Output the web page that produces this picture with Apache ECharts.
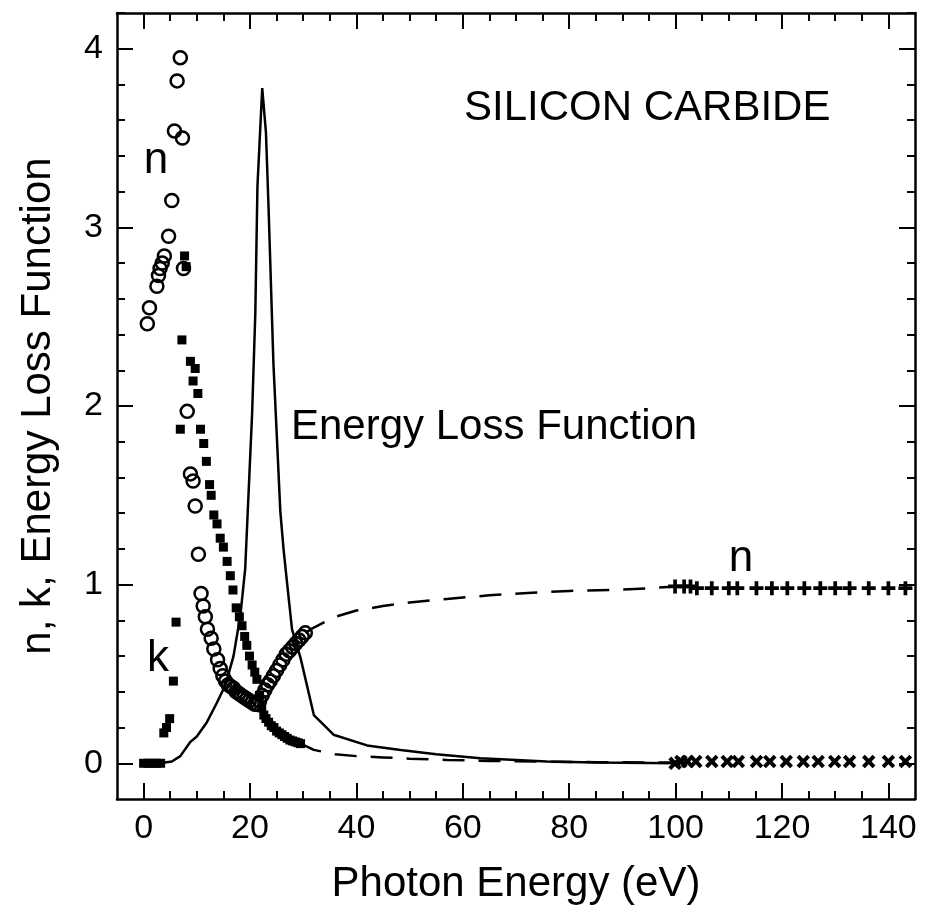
<!DOCTYPE html>
<html>
<head>
<meta charset="utf-8">
<script src="https://cdn.jsdelivr.net/npm/echarts@6/dist/echarts.min.js"></script>
<style>
  html, body { margin: 0; padding: 0; background: #fff; }
  #chart { width: 927px; height: 916px; }
</style>
</head>
<body>
<div id="chart"></div>
<script>
/*
 * =================数据===================*/
// n, low energy (open circles)
const nLow = [
  [0.7, 2.46], [1.1, 2.55], [2.5, 2.67], [2.8, 2.73], [3.1, 2.77], [3.5, 2.8],
  [3.9, 2.84], [4.7, 2.95], [5.3, 3.15], [5.8, 3.54], [6.3, 3.82], [6.9, 3.95],
  [7.3, 3.5], [7.5, 2.77], [8.2, 1.97], [8.8, 1.62], [9.3, 1.58], [9.7, 1.44],
  [10.3, 1.17], [10.8, 0.95], [11.2, 0.88], [11.6, 0.82], [12.0, 0.75], [12.7, 0.7],
  [13.2, 0.64], [13.9, 0.58], [14.4, 0.53], [14.9, 0.49], [15.4, 0.46], [15.9, 0.44],
  [16.4, 0.43], [16.9, 0.42], [17.4, 0.4], [17.9, 0.39], [18.4, 0.38], [18.9, 0.37],
  [19.4, 0.36], [19.9, 0.35], [20.4, 0.34], [20.9, 0.33], [21.3, 0.33], [21.8, 0.35],
  [22.3, 0.38], [22.8, 0.41], [23.3, 0.44], [23.8, 0.46], [24.4, 0.49], [25.0, 0.52],
  [25.6, 0.55], [26.2, 0.58], [26.8, 0.61], [27.4, 0.63], [28.0, 0.65], [28.6, 0.67],
  [29.2, 0.69], [29.8, 0.71], [30.4, 0.73]
];
// k, low energy (filled squares)
const kLow = [
  [0, 0], [0.8, 0], [1.6, 0], [2.4, 0], [3.2, 0], [3.8, 0.17], [4.3, 0.2], [4.9, 0.25],
  [5.6, 0.46], [6.1, 0.79], [7.7, 2.84], [8.0, 2.78], [7.2, 2.37], [8.8, 2.25],
  [9.7, 2.21], [9.3, 2.14], [10.2, 2.07], [6.9, 1.87], [10.7, 1.87], [11.3, 1.79],
  [11.8, 1.69], [12.4, 1.56], [12.7, 1.5], [13.2, 1.39], [13.8, 1.34], [14.4, 1.26],
  [15.0, 1.21], [15.7, 1.13], [16.3, 1.05], [16.8, 0.97], [17.4, 0.87], [18.0, 0.82],
  [18.5, 0.77], [19.0, 0.71], [19.4, 0.66], [19.9, 0.6], [20.4, 0.55], [20.9, 0.51],
  [21.3, 0.47], [21.8, 0.38], [22.2, 0.31], [22.6, 0.27], [23.0, 0.25], [23.5, 0.23],
  [24.0, 0.21], [24.5, 0.2], [25.0, 0.18], [25.5, 0.17], [26.0, 0.16], [26.5, 0.15],
  [27.0, 0.14], [27.5, 0.13], [28.0, 0.125], [28.5, 0.12], [29.0, 0.115], [29.5, 0.11]
];
// energy loss function (solid line)
const elf = [
  [0, 0], [3, 0], [5.3, 0.01], [6.9, 0.04], [8.8, 0.12], [10.0, 0.15], [11.9, 0.23],
  [13.8, 0.34], [15.4, 0.44], [16.9, 0.6], [18.2, 0.83], [19.1, 1.09], [20.4, 1.96],
  [21.0, 2.52], [21.4, 3.23], [22.3, 3.78], [23.0, 3.53], [23.5, 3.1], [24.4, 2.24],
  [25.7, 1.41], [26.3, 1.2], [27.0, 1.0], [27.9, 0.75], [29.5, 0.59], [32.0, 0.27],
  [35.7, 0.16], [42.0, 0.1], [48.3, 0.074], [55, 0.05], [63.3, 0.028], [75.8, 0.01],
  [85, 0.004], [100, 0]
];
// n, tabulated extension (dashed)
const nDash = [
  [30.4, 0.73], [32, 0.76], [34, 0.79], [36, 0.82], [40, 0.855], [45, 0.88], [50, 0.9],
  [57, 0.92], [65, 0.94], [73, 0.955], [80, 0.965], [88, 0.97], [95, 0.98], [100, 0.99]
];
// k, tabulated extension (dashed)
const kDash = [
  [29.5, 0.11], [32, 0.075], [36, 0.05], [40, 0.04], [45, 0.033], [50, 0.026],
  [57, 0.019], [65, 0.013], [75, 0.009], [85, 0.006], [100, 0.004]
];
// n, high energy (+)
const nHigh = [
  [99.9, 0.99], [101.6, 0.99], [102.8, 0.99], [104.0, 0.98], [106.8, 0.98], [110.0, 0.98],
  [111.6, 0.98], [115.2, 0.98], [118.1, 0.98], [121.0, 0.98], [124.2, 0.98], [127.2, 0.98],
  [130.0, 0.98], [132.7, 0.98], [136.3, 0.98], [140.0, 0.98], [143.2, 0.98]
];
// k, high energy (x)
const kHigh = [
  [99.9, 0.0], [101.0, 0.01], [102.2, 0.01], [103.8, 0.01], [106.8, 0.01], [109.7, 0.01],
  [111.8, 0.01], [115.2, 0.01], [117.7, 0.01], [120.8, 0.01], [124.0, 0.01], [126.8, 0.01],
  [129.9, 0.01], [132.7, 0.01], [136.3, 0.01], [140.0, 0.01], [143.2, 0.01]
];

const xMajor = [0, 20, 40, 60, 80, 100, 120, 140];
const xMinor = [5, 10, 15, 25, 30, 35, 45, 50, 55, 65, 70, 75, 85, 90, 95, 105, 110, 115, 125, 130, 135];
const yMajor = [0, 1, 2, 3, 4];
const yMinor = [0.2, 0.4, 0.6, 0.8, 1.2, 1.4, 1.6, 1.8, 2.2, 2.4, 2.6, 2.8, 3.2, 3.4, 3.6, 3.8, 4.2];

/*
 * =================图表===================*/
{
  const FONT = "Liberation Sans, Arial, sans-serif";
  const PLUS = "path://M4.4,0H7.6V4.4H12V7.6H7.6V12H4.4V7.6H0V4.4H4.4Z";

  // one axis per side and tick length: major ticks long, minor ticks short
  function xAx(pos, ticks, len, main) {
    return {
      type: "value", min: -5, max: 145, position: pos, gridIndex: 0,
      axisLine: { show: main, onZero: false, lineStyle: { color: "#000", width: 2.5 } },
      axisTick: { show: true, inside: true, length: len, customValues: ticks,
        lineStyle: { color: "#000", width: 2 } },
      axisLabel: main && pos === "bottom"
        ? { show: true, customValues: xMajor, color: "#000", fontSize: 34,
            fontFamily: FONT, margin: 13 }
        : { show: false },
      splitLine: { show: false },
      name: main && pos === "bottom" ? "Photon Energy (eV)" : "",
      nameLocation: "middle", nameGap: 64,
      nameTextStyle: { color: "#000", fontSize: 42, fontFamily: FONT }
    };
  }
  function yAx(pos, ticks, len, main) {
    return {
      type: "value", min: -0.2, max: 4.2, position: pos, gridIndex: 0,
      axisLine: { show: main, onZero: false, lineStyle: { color: "#000", width: 2.5 } },
      axisTick: { show: true, inside: true, length: len, customValues: ticks,
        lineStyle: { color: "#000", width: 2 } },
      axisLabel: main && pos === "left"
        ? { show: true, customValues: yMajor, color: "#000", fontSize: 34,
            fontFamily: FONT, margin: 14 }
        : { show: false },
      splitLine: { show: false },
      name: main && pos === "left" ? "n, k, Energy Loss Function" : "",
      nameLocation: "middle", nameGap: 58,
      nameTextStyle: { color: "#000", fontSize: 42, fontFamily: FONT }
    };
  }

  var dom = document.getElementById("chart");
  var myChart = echarts.init(dom, null, { renderer: "canvas" });
  var option = {
    backgroundColor: "#fff",
    animation: false,
    grid: { left: 117, top: 13, right: 12, bottom: 117 },
    xAxis: [
      xAx("bottom", xMajor, 16, true),
      xAx("bottom", xMinor, 8, false),
      xAx("top", xMajor, 16, true),
      xAx("top", xMinor, 8, false)
    ],
    yAxis: [
      yAx("left", yMajor, 16, true),
      yAx("left", yMinor, 8, false),
      yAx("right", yMajor, 16, true),
      yAx("right", yMinor, 8, false)
    ],
    series: [
      {
        type: "line", data: elf, symbol: "none", smooth: false,
        lineStyle: { color: "#000", width: 2.5 }
      },
      {
        type: "line", data: nDash, symbol: "none",
        lineStyle: { color: "#000", width: 2.5, type: [22, 14] }
      },
      {
        type: "line", data: kDash, symbol: "none",
        lineStyle: { color: "#000", width: 2.5, type: [22, 14] }
      },
      {
        type: "scatter", data: kLow, symbol: "rect", symbolSize: 9,
        itemStyle: { color: "#000", opacity: 1 }
      },
      {
        type: "scatter", data: nLow, symbol: "circle", symbolSize: 13,
        itemStyle: { color: "rgba(255,255,255,0)", borderColor: "#000", borderWidth: 2.5, opacity: 1 }
      },
      {
        type: "scatter", data: nHigh, symbol: PLUS, symbolSize: 14,
        itemStyle: { color: "#000", opacity: 1 }
      },
      {
        type: "scatter", data: kHigh, symbol: PLUS, symbolSize: 15, symbolRotate: 45,
        itemStyle: { color: "#000", opacity: 1 }
      }
    ],
    graphic: [
      { type: "text", style: { text: "SILICON CARBIDE", x: 464, y: 108, fill: "#000",
          font: "42px " + FONT, textAlign: "left", textVerticalAlign: "middle" } },
      { type: "text", style: { text: "Energy Loss Function", x: 291, y: 427, fill: "#000",
          font: "42px " + FONT, textAlign: "left", textVerticalAlign: "middle" } },
      { type: "text", style: { text: "n", x: 156, y: 161, fill: "#000",
          font: "44px " + FONT, textAlign: "center", textVerticalAlign: "middle" } },
      { type: "text", style: { text: "k", x: 158, y: 659, fill: "#000",
          font: "44px " + FONT, textAlign: "center", textVerticalAlign: "middle" } },
      { type: "text", style: { text: "n", x: 741, y: 559, fill: "#000",
          font: "44px " + FONT, textAlign: "center", textVerticalAlign: "middle" } }
    ]
  };
  if (option && typeof option === "object") {
    myChart.setOption(option, true);
  }
}
</script>
</body>
</html>
